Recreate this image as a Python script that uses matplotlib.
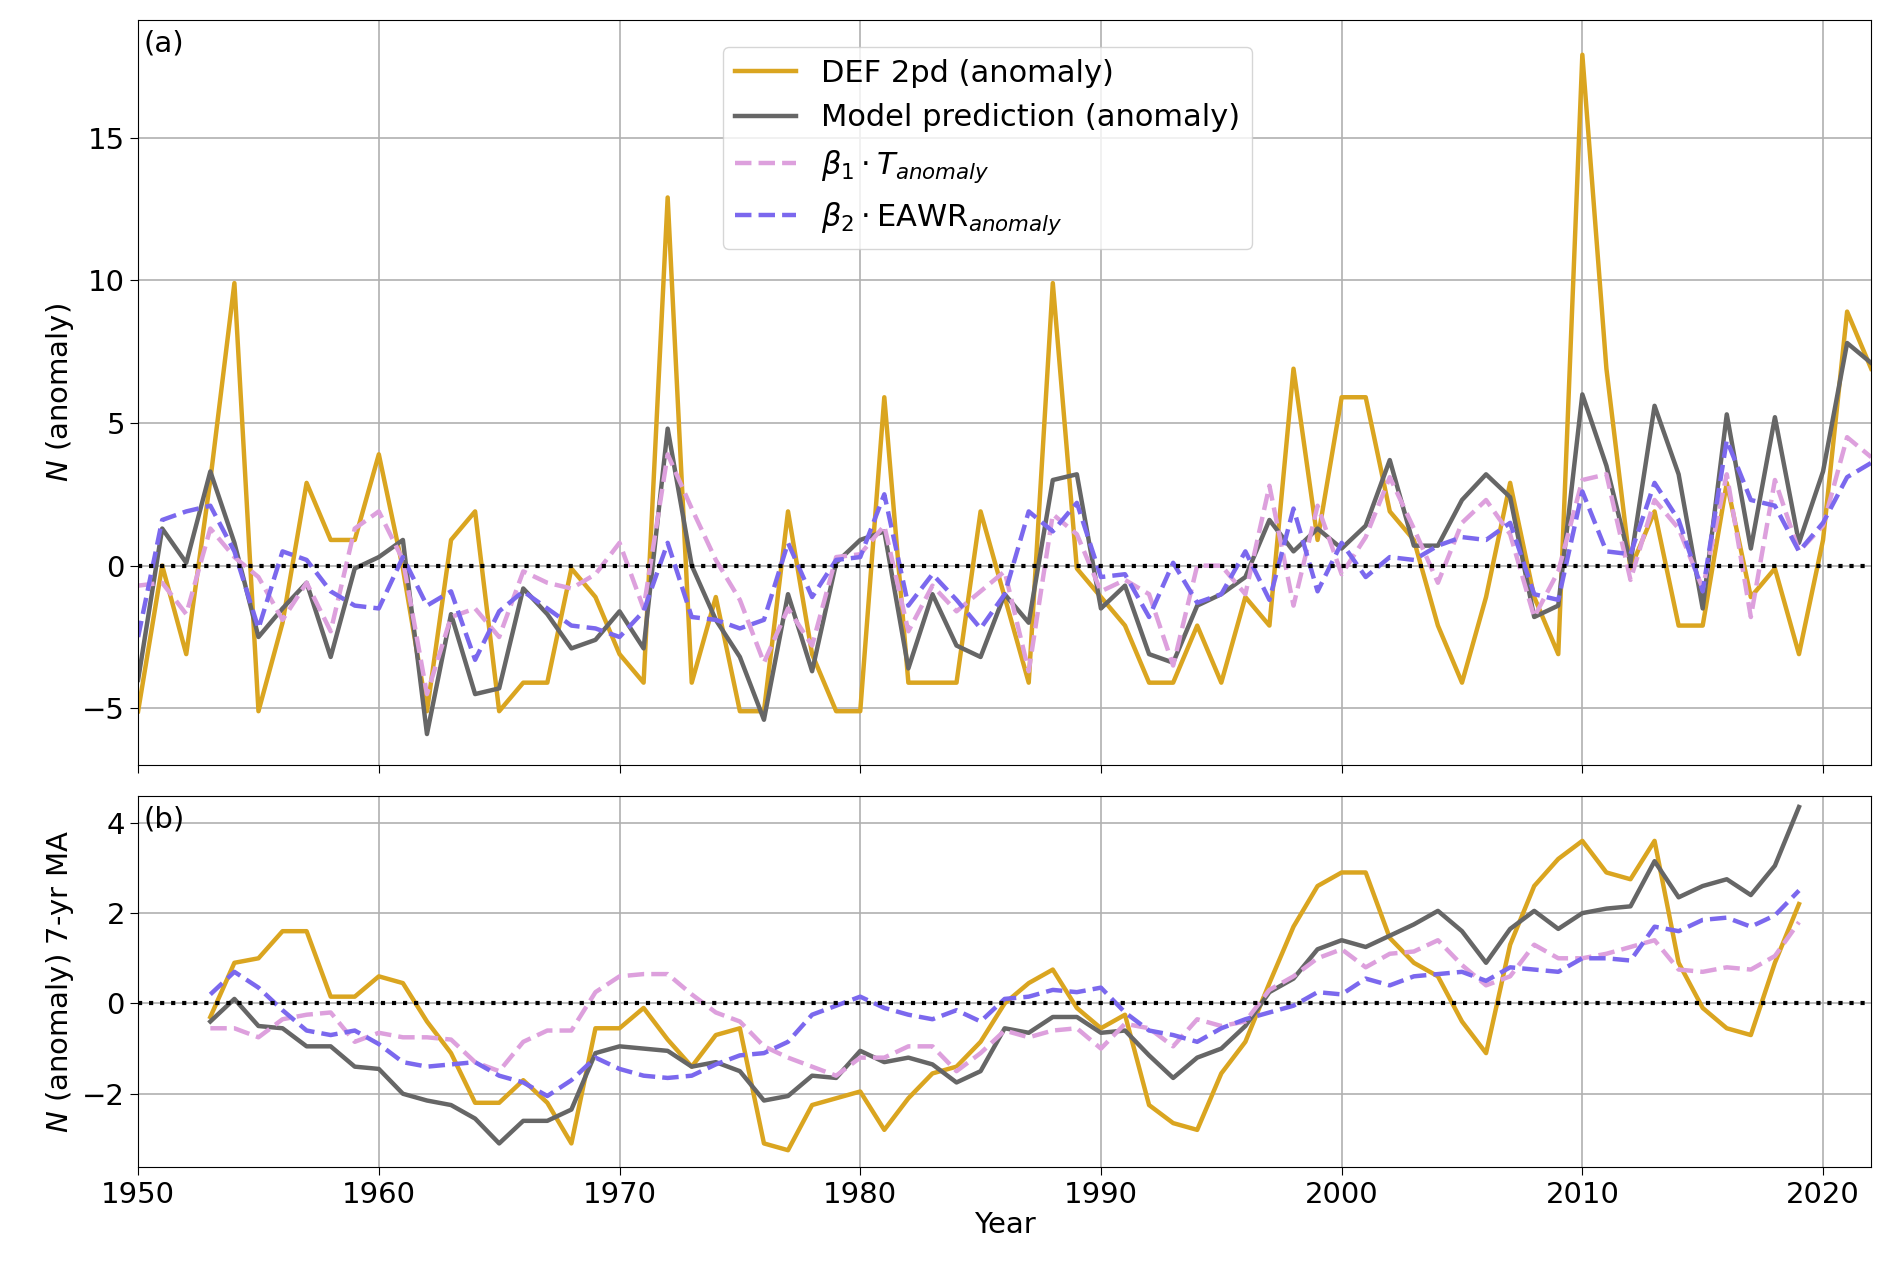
import numpy as np
import matplotlib.pyplot as plt

years = np.arange(1950, 2023)
def_anom = [-5.1, 0, -3.1, 3, 9.9, -5.1, -2, 2.9, 0.9, 0.9, 3.9, -0.1, -5.1, 0.9, 1.9, -5.1, -4.1, -4.1, -0.1, -1.1,
            -3.1, -4.1, 12.9, -4.1, -1.1, -5.1, -5.1, 1.9, -3.1, -5.1, -5.1, 5.9, -4.1, -4.1, -4.1, 1.9, -1.1, -4.1, 9.9, -0.1,
            -1.1, -2.1, -4.1, -4.1, -2.1, -4.1, -1.1, -2.1, 6.9, 0.9, 5.9, 5.9, 1.9, 0.9, -2.1, -4.1, -1.1, 2.9, -1.1, -3.1,
            17.9, 6.9, -0.1, 1.9, -2.1, -2.1, 2.9, -1.1, -0.1, -3.1, 0.9, 8.9, 6.9]
model_anom = [-4, 1.3, 0.1, 3.3, 0.8, -2.5, -1.5, -0.6, -3.2, -0.1, 0.3, 0.9, -5.9, -1.7, -4.5, -4.3, -0.8, -1.7, -2.9, -2.6,
              -1.6, -2.9, 4.8, 0, -1.9, -3.2, -5.4, -1, -3.7, 0.1, 0.9, 1.2, -3.6, -1, -2.8, -3.2, -1, -2, 3, 3.2,
              -1.5, -0.7, -3.1, -3.4, -1.4, -1, -0.4, 1.6, 0.5, 1.3, 0.6, 1.4, 3.7, 0.7, 0.7, 2.3, 3.2, 2.4, -1.8, -1.4,
              6, 3.5, 0.1, 5.6, 3.2, -1.5, 5.3, 0.6, 5.2, 0.8, 3.3, 7.8, 7.1]
t_term = [-0.7, -0.6, -1.7, 1.3, 0.3, -0.4, -1.9, -0.6, -2.3, 1.3, 1.9, 0.2, -4.5, -1.8, -1.5, -2.5, -0.2, -0.6, -0.8, -0.3,
          0.8, -1.5, 3.9, 2.0, 0.2, -1.2, -3.4, -1.5, -2.8, 0.3, 0.4, 1.4, -2.3, -0.7, -1.6, -0.9, -0.2, -3.7, 1.8, 1.1,
          -0.9, -0.5, -1, -3.5, 0, 0, -1, 2.8, -1.4, 2.1, -0.3, 1.0, 3.1, 1.3, -0.6, 1.5, 2.3, 1.1, -1.8, -0.2,
          3.0, 3.2, -0.5, 2.3, 1.3, -0.8, 3.2, -1.8, 3.0, 0.5, 1.4, 4.5, 3.8]
eawr_term = [-2.5, 1.6, 1.9, 2.1, 0.5, -2.2, 0.5, 0.2, -0.9, -1.4, -1.5, 0.3, -1.4, -0.9, -3.3, -1.6, -0.9, -1.5, -2.1, -2.2,
             -2.5, -1.6, 0.8, -1.8, -1.9, -2.2, -1.9, 0.8, -1.1, 0.2, 0.3, 2.5, -1.4, -0.3, -1.2, -2.2, -1, 1.9, 1.2, 2.2,
             -0.4, -0.3, -1.8, 0.1, -1.3, -1.0, 0.5, -1.2, 2.0, -0.9, 0.8, -0.4, 0.3, 0.2, 0.7, 1.0, 0.9, 1.5, -1.0, -1.2,
             2.6, 0.5, 0.4, 2.9, 1.6, -0.9, 4.4, 2.3, 2.1, 0.5, 1.5, 3.1, 3.6]

ma_years = np.arange(1953, 2020)
def_ma = [-0.3, 0.9, 1.0, 1.6, 1.6, 0.15, 0.15, 0.6, 0.45, -0.4, -1.1, -2.2, -2.2, -1.7, -2.2, -3.1, -0.55, -0.55, -0.1, -0.8,
          -1.4, -0.7, -0.55, -3.1, -3.25, -2.25, -2.1, -1.95, -2.8, -2.1, -1.55, -1.4, -0.85, 0, 0.45, 0.75, -0.1, -0.55, -0.25, -2.25,
          -2.65, -2.8, -1.55, -0.85, 0.45, 1.7, 2.6, 2.9, 2.9, 1.45, 0.9, 0.6, -0.4, -1.1, 1.3, 2.6, 3.2, 3.6, 2.9, 2.75,
          3.6, 0.9, -0.1, -0.55, -0.7, 0.9, 2.2]
model_ma = [-0.4, 0.1, -0.5, -0.55, -0.95, -0.95, -1.4, -1.45, -2.0, -2.15, -2.25, -2.55, -3.1, -2.6, -2.6, -2.35, -1.1, -0.95, -1.0, -1.05,
            -1.4, -1.3, -1.5, -2.15, -2.05, -1.6, -1.65, -1.05, -1.3, -1.2, -1.35, -1.75, -1.5, -0.55, -0.65, -0.3, -0.3, -0.65, -0.6, -1.15,
            -1.65, -1.2, -1.0, -0.5, 0.25, 0.55, 1.2, 1.4, 1.25, 1.5, 1.75, 2.05, 1.6, 0.9, 1.65, 2.05, 1.65, 2.0, 2.1, 2.15,
            3.15, 2.35, 2.6, 2.75, 2.4, 3.05, 4.35]
t_ma = [-0.55, -0.55, -0.75, -0.35, -0.25, -0.2, -0.85, -0.65, -0.75, -0.75, -0.8, -1.3, -1.5, -0.85, -0.6, -0.6, 0.25, 0.6, 0.65, 0.65,
        0.2, -0.2, -0.4, -0.95, -1.2, -1.4, -1.6, -1.2, -1.2, -0.95, -0.95, -1.5, -1.1, -0.6, -0.75, -0.6, -0.55, -1.0, -0.45, -0.55,
        -0.95, -0.35, -0.5, -0.4, 0.3, 0.6, 1.0, 1.2, 0.8, 1.1, 1.15, 1.4, 0.85, 0.4, 0.6, 1.3, 1.0, 1.0, 1.1, 1.25,
        1.4, 0.75, 0.7, 0.8, 0.75, 1.05, 1.8]
eawr_ma = [0.2, 0.7, 0.35, -0.15, -0.6, -0.7, -0.6, -0.9, -1.3, -1.4, -1.35, -1.3, -1.6, -1.75, -2.05, -1.7, -1.2, -1.45, -1.6, -1.65,
           -1.6, -1.35, -1.15, -1.1, -0.85, -0.25, -0.05, 0.15, -0.1, -0.25, -0.35, -0.15, -0.4, 0.1, 0.15, 0.3, 0.25, 0.35, -0.2, -0.6,
           -0.7, -0.85, -0.55, -0.35, -0.2, -0.05, 0.25, 0.2, 0.55, 0.4, 0.6, 0.65, 0.7, 0.5, 0.8, 0.75, 0.7, 1.0, 1.0, 0.95,
           1.7, 1.6, 1.85, 1.9, 1.7, 1.95, 2.5]

plt.rcParams['font.size'] = 21
fig = plt.figure(figsize=(18.92, 12.8), dpi=100)
ax1 = fig.add_axes([0.073, 0.402, 0.916, 0.582])
ax2 = fig.add_axes([0.073, 0.088, 0.916, 0.29], sharex=ax1)

gold, grey, pink, blue = '#DAA520', '#666666', '#DDA0DD', '#7B68EE'

ax1.plot(years, def_anom, color=gold, lw=3.2, label='DEF 2pd (anomaly)')
ax1.plot(years, model_anom, color=grey, lw=3.2, label='Model prediction (anomaly)')
ax1.plot(years, t_term, color=pink, lw=3.2, ls='--', label=r'$\beta_1\cdot T_{anomaly}$')
ax1.plot(years, eawr_term, color=blue, lw=3.2, ls='--', label=r'$\beta_2\cdot \mathrm{EAWR}_{anomaly}$')
ax1.axhline(0, color='black', ls=':', lw=3)
ax1.set_ylim(-7.0, 19.1)
ax1.set_ylabel(r'$N$ (anomaly)')
ax1.grid(True, color='#b0b0b0', lw=1.2)
ax1.tick_params(labelbottom=False, length=6)
ax1.text(0.003, 0.988, '(a)', transform=ax1.transAxes, va='top', ha='left')
ax1.legend(loc='upper center', bbox_to_anchor=(0.49, 0.985), fontsize=22)

ax2.plot(ma_years, def_ma, color=gold, lw=3.2)
ax2.plot(ma_years, model_ma, color=grey, lw=3.2)
ax2.plot(ma_years, t_ma, color=pink, lw=3.2, ls='--')
ax2.plot(ma_years, eawr_ma, color=blue, lw=3.2, ls='--')
ax2.axhline(0, color='black', ls=':', lw=3)
ax2.set_ylim(-3.63, 4.59)
ax2.set_yticks([-2, 0, 2, 4])
ax2.set_ylabel(r'$N$ (anomaly) 7-yr MA')
ax2.set_xlabel('Year', labelpad=2)
ax2.grid(True, color='#b0b0b0', lw=1.2)
ax2.tick_params(length=6)
ax2.text(0.003, 0.975, '(b)', transform=ax2.transAxes, va='top', ha='left')
ax2.set_xlim(1950, 2022)

fig.savefig('out.png', dpi=100)
